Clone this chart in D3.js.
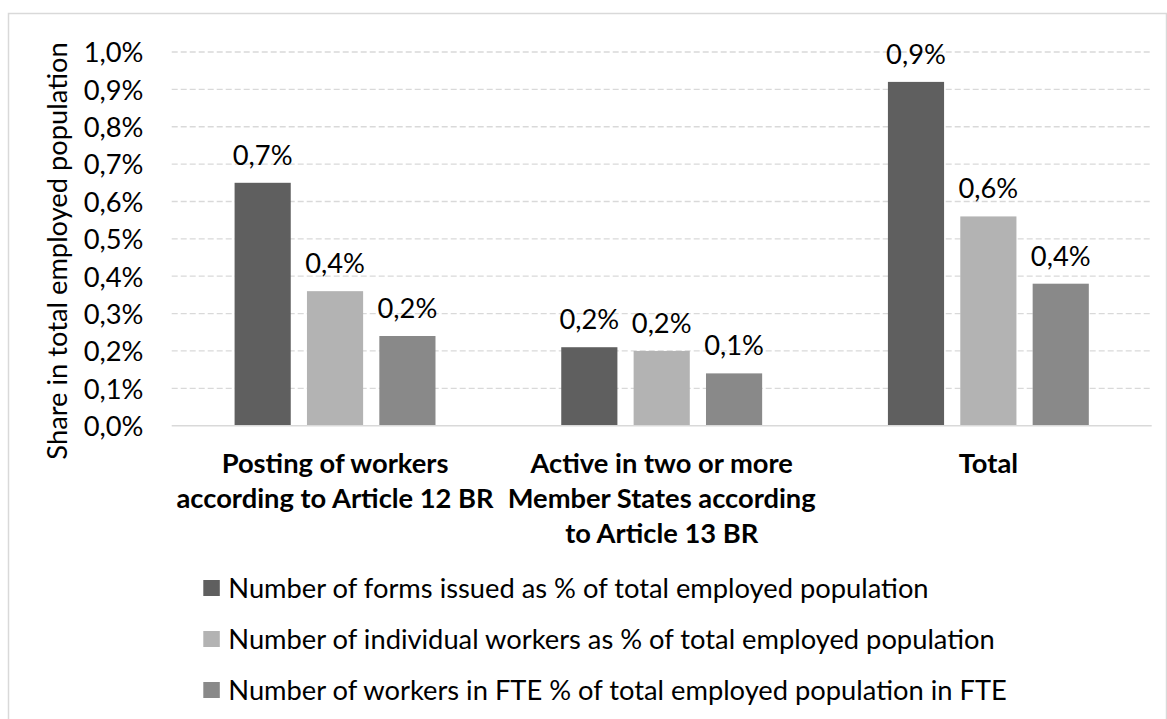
<!DOCTYPE html>
<html>
<head>
<meta charset="utf-8">
<script src="https://cdn.jsdelivr.net/npm/d3@7"></script>
<style>
  html, body { margin: 0; padding: 0; background: #fff; }
  svg { display: block; }
  text { font-family: Lato, "Open Sans", sans-serif; fill: #000; }
</style>
</head>
<body>
<svg id="chart" width="1167" height="719"></svg>
<script>
// ---- data ----
const categories = [
  ["Posting of workers", "according to Article 12 BR"],
  ["Active in two or more", "Member States according", "to Article 13 BR"],
  ["Total"]
];
const seriesNames = [
  "Number of forms issued as % of total employed population",
  "Number of individual workers as % of total employed population",
  "Number of workers in FTE % of total employed population in FTE"
];
const formsIssued = [0.65, 0.21, 0.92];
const individualWorkers = [0.36, 0.20, 0.56];
const workersFTE = [0.24, 0.14, 0.38];
const yTicks = [0, 0.1, 0.2, 0.3, 0.4, 0.5, 0.6, 0.7, 0.8, 0.9, 1.0];
const yTitle = "Share in total employed population";

// ---- styles ----
const colors = ["#5f5f5f", "#b3b3b3", "#898989"];
const series = [formsIssued, individualWorkers, workersFTE];

const svg = d3.select("#chart");

// fit font size to reference text width
const probe = svg.append("text").attr("font-size", 100).text(seriesNames[1]);
const fs = 100 * 767 / probe.node().getComputedTextLength();
probe.remove();

// border
svg.append("rect")
  .attr("x", 8.5).attr("y", 13.5)
  .attr("width", 1158).attr("height", 720)
  .attr("fill", "none").attr("stroke", "#d9d9d9").attr("stroke-width", 1.5);

const plot = { left: 171.7, right: 1151.7, top: 52, bottom: 425.7 };

const x0 = d3.scaleBand().domain(d3.range(categories.length))
  .range([plot.left, plot.right]).paddingInner(0).paddingOuter(0);
const groupW = x0.bandwidth() * 0.615;
const x1 = d3.scaleBand().domain(d3.range(series.length))
  .range([-groupW / 2, groupW / 2]).paddingInner(0.224).paddingOuter(0);
const y = d3.scaleLinear().domain([0, 1.0]).range([plot.bottom, plot.top]);

const fmt = v => d3.format(".1f")(v).replace(".", ",") + "%";

// gridlines
svg.append("g").selectAll("line").data(yTicks.filter(t => t > 0)).join("line")
  .attr("x1", plot.left).attr("x2", plot.right)
  .attr("y1", d => y(d)).attr("y2", d => y(d))
  .attr("stroke", "#d9d9d9").attr("stroke-width", 1.3)
  .attr("stroke-dasharray", "6,3");

// y axis
const yAxis = d3.axisLeft(y).tickValues(yTicks).tickFormat(fmt).tickSize(0).tickPadding(0);
const gy = svg.append("g").attr("transform", `translate(143.5,0)`).call(yAxis);
gy.select(".domain").remove();
gy.selectAll("text").attr("font-size", fs).attr("font-family", "Lato, sans-serif")
  .attr("fill", "#000").attr("dy", "0.36em");

// bars
series.forEach((vals, si) => {
  svg.append("g").selectAll("rect").data(vals).join("rect")
    .attr("x", (d, i) => x0(i) + x0.bandwidth() / 2 + x1(si))
    .attr("width", x1.bandwidth())
    .attr("y", d => y(d))
    .attr("height", d => y(0) - y(d))
    .attr("fill", colors[si]);
  svg.append("g").selectAll("text").data(vals).join("text")
    .attr("x", (d, i) => x0(i) + x0.bandwidth() / 2 + x1(si) + x1.bandwidth() / 2)
    .attr("y", d => y(d) - 18)
    .attr("text-anchor", "middle")
    .attr("font-size", fs)
    .text(d => fmt(d));
});

// zero line
svg.append("line")
  .attr("x1", plot.left).attr("x2", plot.right)
  .attr("y1", y(0)).attr("y2", y(0))
  .attr("stroke", "#d9d9d9").attr("stroke-width", 1.5);

// category labels
const cat = svg.append("g").selectAll("text").data(categories).join("text")
  .attr("text-anchor", "middle")
  .attr("font-size", fs).attr("font-weight", "bold")
  .attr("transform", (d, i) => `translate(${x0(i) + x0.bandwidth() / 2},473.3)`);
cat.selectAll("tspan").data(d => d).join("tspan")
  .attr("x", 0).attr("y", (d, j) => j * 35)
  .text(d => d);

// y title
svg.append("text")
  .attr("transform", "translate(67,251) rotate(-90)")
  .attr("text-anchor", "middle")
  .attr("font-size", fs)
  .text(yTitle);

// legend
const leg = svg.append("g").selectAll("g").data(seriesNames).join("g")
  .attr("transform", (d, i) => `translate(203.3,${588 + i * 51})`);
leg.append("rect").attr("x", 0).attr("y", -8).attr("width", 16.5).attr("height", 16)
  .attr("fill", (d, i) => colors[i]);
leg.append("text").attr("x", 25).attr("y", 0).attr("dy", "0.36em")
  .attr("font-size", fs).text(d => d);
</script>
</body>
</html>
